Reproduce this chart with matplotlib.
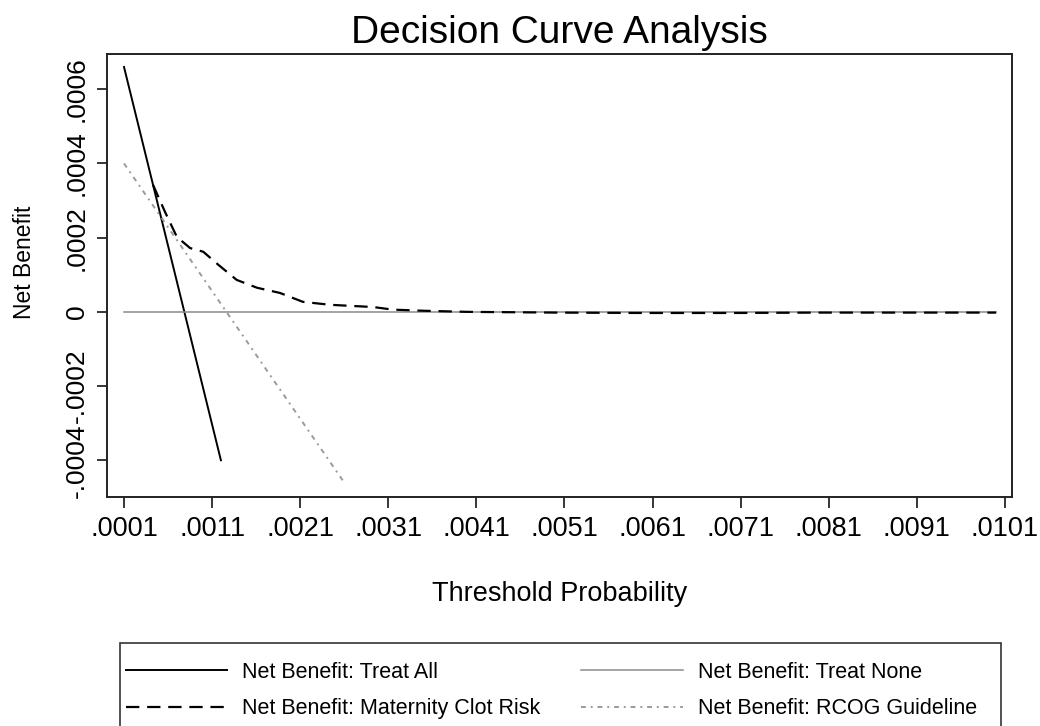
import matplotlib.pyplot as plt
from matplotlib.patches import Rectangle
from matplotlib.ticker import FixedLocator

plt.rcParams['font.family'] = ['Liberation Sans', 'DejaVu Sans']

# threshold probabilities and net benefit for each strategy
treat_all_pt = [0.0001, 0.0012]
treat_all_nb = [0.00066, -0.0004]

treat_none_pt = [0.0001, 0.0100]
treat_none_nb = [0.0, 0.0]

clot_pt = [0.00043, 0.00057, 0.0007, 0.00085, 0.001, 0.00117, 0.00138,
           0.00161, 0.00187, 0.00213, 0.00244, 0.00293, 0.00315, 0.0035,
           0.004, 0.005, 0.006, 0.007, 0.008, 0.009, 0.0100]
clot_nb = [0.000342, 0.000267, 0.000202, 0.000172, 0.000162, 0.000127,
           0.000086, 0.000065, 0.000051, 0.000027, 0.000019, 0.000013,
           0.000006, 0.000003, 0.0, -0.000002, -0.000003, -0.000003,
           -0.000002, -0.000002, -0.000002]

rcog_pt = [0.0001, 0.0026]
rcog_nb = [0.00040, -0.00046]

xticks = [0.0001 + 0.001 * i for i in range(11)]
xtick_labels = ['.0001', '.0011', '.0021', '.0031', '.0041', '.0051',
                '.0061', '.0071', '.0081', '.0091', '.0101']
yticks = [-0.0004, -0.0002, 0.0, 0.0002, 0.0004, 0.0006]
ytick_labels = ['-.0004', '-.0002', '0', '.0002', '.0004', '.0006']

fig = plt.figure(figsize=(10.4, 7.26), dpi=100)
ax = fig.add_axes([107 / 1040, 1 - 497 / 726, 905 / 1040, 443 / 726])

l1, = ax.plot(treat_all_pt, treat_all_nb, color='black', lw=1.4,
              label='Net Benefit: Treat All')
l2, = ax.plot(treat_none_pt, treat_none_nb, color='#8a8a8a', lw=1.1,
              label='Net Benefit: Treat None')
l3, = ax.plot(clot_pt, clot_nb, color='black', lw=1.6, dashes=(6, 3.5),
              label='Net Benefit: Maternity Clot Risk')
l4, = ax.plot(rcog_pt, rcog_nb, color='#9a9a9a', lw=1.4,
              dashes=(2.5, 2.5, 1, 2.5), label='Net Benefit: RCOG Guideline')

ax.set_xlim(-0.000093, 0.01018)
ax.set_ylim(-0.000499, 0.000695)
ax.xaxis.set_major_locator(FixedLocator(xticks))
ax.set_xticklabels(xtick_labels, fontsize=19.5)
ax.yaxis.set_major_locator(FixedLocator(yticks))
ax.set_yticklabels(ytick_labels, fontsize=19, rotation=90, va='center')
ax.tick_params(axis='x', length=8, width=1.1, pad=6)
ax.tick_params(axis='y', length=7, width=1.1, pad=6)
for s in ax.spines.values():
    s.set_linewidth(1.4)
    s.set_color('#222222')

ax.set_title('Decision Curve Analysis', fontsize=28, pad=8)
ax.set_xlabel('Threshold Probability', fontsize=19.5, labelpad=28)
ax.set_ylabel('Net Benefit', fontsize=16.5)
ax.yaxis.set_label_coords(-0.078, 0.53)

# legend box runs off the bottom edge of the figure
fig.patches.append(Rectangle((120 / 1040, -0.05), 881 / 1040,
                             1.05 - 643 / 726, transform=fig.transFigure,
                             fill=False, edgecolor='#333333', lw=1.2))
leg = fig.legend(handles=[l1, l3, l2, l4], ncol=2, loc='upper left',
                 bbox_to_anchor=(126 / 1040, 1 - 662 / 726),
                 fontsize=15.5, handlelength=4.7, handletextpad=0.7,
                 columnspacing=1.9, labelspacing=0.7, borderpad=0,
                 borderaxespad=0, frameon=False)

fig.savefig('out.png', dpi=100)
